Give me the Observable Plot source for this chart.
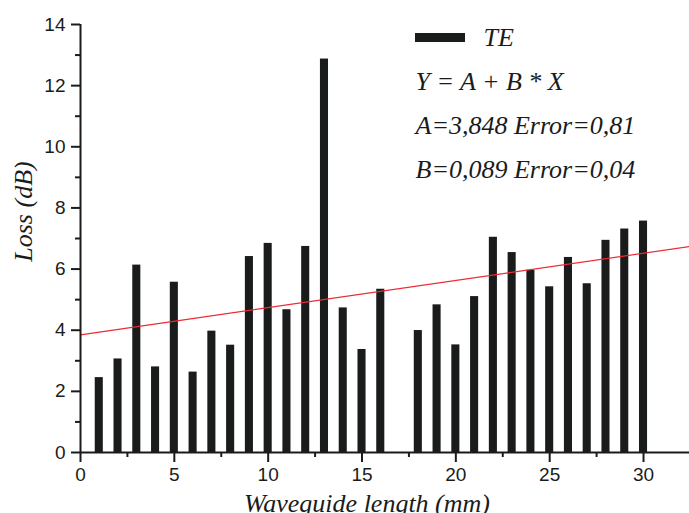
<!DOCTYPE html>
<html>
<head>
<meta charset="utf-8">
<script src="https://cdn.jsdelivr.net/npm/d3@7"></script>
<script src="https://cdn.jsdelivr.net/npm/@observablehq/plot@0.6"></script>
<style>
  html, body { margin: 0; padding: 0; background: #fff; }
  #chart { position: relative; width: 689px; height: 513px; overflow: hidden; }
</style>
</head>
<body>
<div id="chart"></div>
<script>
// Waveguide length (mm)
const lengths = [1,2,3,4,5,6,7,8,9,10,11,12,13,14,15,16,18,19,20,21,22,23,24,25,26,27,28,29,30];
// Loss (dB), TE
const losses  = [2.45,3.06,6.13,2.80,5.57,2.63,3.97,3.51,6.41,6.84,4.67,6.74,12.87,4.73,3.37,5.34,3.99,4.83,3.52,5.10,7.04,6.54,5.96,5.42,6.38,5.52,6.94,7.31,7.57];
// Linear fit Y = A + B * X
const fitA = 3.848;
const fitB = 0.089;
const fitRange = [0, 32.45];
const xTicks = [0, 5, 10, 15, 20, 25, 30];
const xMinor = [2.5, 7.5, 12.5, 17.5, 22.5, 27.5, 32.5];
const yTicks = [0, 2, 4, 6, 8, 10, 12, 14];
const yMinor = [1, 3, 5, 7, 9, 11, 13];
const annotations = ["Y = A + B * X", "A=3,848 Error=0,81", "B=0,089 Error=0,04"];
const legendLabel = "TE";

const bars = lengths.map((x, i) => ({x, y: losses[i]}));
const fit = fitRange.map(x => ({x, y: fitA + fitB * x}));
const ink = "#1a1c1b";
const sans = "Liberation Sans, Arial, sans-serif";
const serif = "Liberation Serif, Times New Roman, serif";
const annotOffsets = [65, 109, 153];
const serifText = (data, opts) => Plot.text(data, {fontFamily: serif, fontStyle: "italic", fontSize: 26, fill: ink, ...opts});

const plot = Plot.plot({
  width: 689, height: 513, marginLeft: 80, marginRight: 0, marginTop: 24, marginBottom: 61,
  style: {fontFamily: sans, fontSize: "19px", color: ink, background: "white", overflow: "visible"},
  x: {domain: fitRange}, y: {domain: [0, 14]},
  marks: [
    Plot.rectY(bars, {x1: d => d.x - 0.215, x2: d => d.x + 0.215, y1: 0, y2: "y", fill: ink}),
    Plot.line(fit, {x: "x", y: "y", stroke: "#ee2a33", strokeWidth: 1.2}),
    Plot.ruleX([0], {stroke: ink, strokeWidth: 2}),
    Plot.ruleY([0], {stroke: ink, strokeWidth: 2}),
    Plot.axisX({ticks: xTicks, tickSize: 10, tickPadding: 5, strokeWidth: 2, fontFamily: sans, fontSize: 19, label: null, tickFormat: d => d}),
    Plot.axisX({ticks: xMinor, tickSize: 5, strokeWidth: 2, label: null, tickFormat: () => ""}),
    Plot.axisY({ticks: yTicks, tickSize: 9, tickPadding: 6, strokeWidth: 2, fontFamily: sans, fontSize: 19, label: null, tickFormat: d => d}),
    Plot.axisY({ticks: yMinor, tickSize: 5, strokeWidth: 2, label: null, tickFormat: () => ""}),
    serifText(["Loss (dB)"], {frameAnchor: "left", textAnchor: "middle", rotate: -90, dx: -57, dy: -27}),
    serifText(["Waveguide length (mm)"], {frameAnchor: "bottom", textAnchor: "middle", dx: -18, dy: 59}),
    serifText([legendLabel], {frameAnchor: "top-left", textAnchor: "start", lineAnchor: "bottom", dx: 403, dy: 21}),
    ...annotations.map((t, i) => serifText([t], {frameAnchor: "top-left", textAnchor: "start", lineAnchor: "bottom", dx: 335, dy: annotOffsets[i]}))
  ]
});
// legend swatch
d3.select(plot).append("rect").attr("x", 415).attr("y", 33).attr("width", 50).attr("height", 9).attr("fill", ink);
document.getElementById("chart").appendChild(plot);
</script>
</body>
</html>
